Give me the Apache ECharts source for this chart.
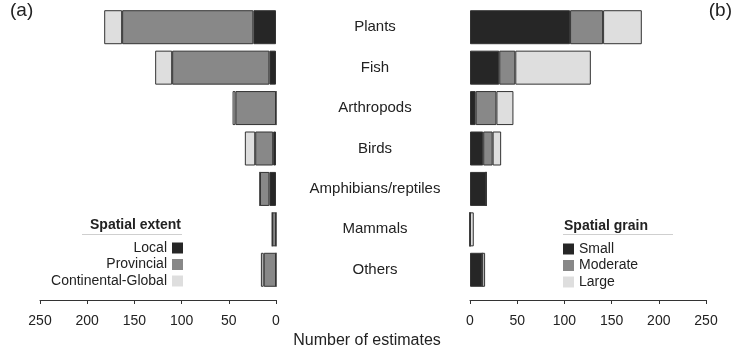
<!DOCTYPE html>
<html>
<head>
<meta charset="utf-8">
<script src="https://cdn.jsdelivr.net/npm/echarts@6/dist/echarts.min.js"></script>
<style>
  html, body { margin: 0; padding: 0; background: #fff; }
  #chart { width: 734px; height: 352px; }
</style>
</head>
<body>
<div id="chart"></div>
<script>
  // 类群
  var categories = ['Plants', 'Fish', 'Arthropods', 'Birds', 'Amphibians/reptiles', 'Mammals', 'Others'];
  // (a) spatial extent
  var extentLocal = [24, 7, 0, 3, 7, 0, 0];
  var extentProvincial = [139, 103, 43, 19, 10, 4, 13];
  var extentContinental = [19, 18, 3, 11, 0, 0, 3];
  // (b) spatial grain
  var grainSmall = [106, 31, 6, 14, 17, 0, 13];
  var grainModerate = [35, 17, 22, 10, 0, 0, 0];
  var grainLarge = [41, 80, 18, 9, 0, 4, 3];
  var axisMin = 0, axisMax = 250, axisStep = 50;

  var font = 'Liberation Sans, Arial, sans-serif';
  var dark = '#262626', mid = '#888888', light = '#dedede';

  function bar(name, data, color, idx, stack) {
    return {
      name: name,
      type: 'bar',
      stack: stack,
      xAxisIndex: idx,
      yAxisIndex: idx,
      data: data,
      barWidth: 34,
      itemStyle: { color: color, borderColor: '#333', borderWidth: 1 },
      emphasis: { disabled: true }
    };
  }

  function xAx(idx, inverse) {
    return {
      type: 'value',
      gridIndex: idx,
      inverse: inverse,
      min: axisMin,
      max: axisMax,
      interval: axisStep,
      offset: 10,
      axisLine: { show: true, lineStyle: { color: '#333', width: 1 } },
      axisTick: { show: true, length: 4, lineStyle: { color: '#333' } },
      axisLabel: { margin: 14, fontSize: 14, color: '#222', fontFamily: font },
      splitLine: { show: false }
    };
  }

  function txt(size, weight) {
    return { fontSize: size, fontWeight: weight, color: '#222', fontFamily: font };
  }

  var chart = echarts.init(document.getElementById('chart'));
  var option = {
    animation: false,
    backgroundColor: '#fff',
    title: [
      { text: '(a)', left: 10, top: 1, padding: 0, textStyle: txt(19, 'normal') },
      { text: '(b)', right: 2, top: 1, padding: 0, textStyle: txt(19, 'normal') },
      { text: 'Spatial extent', left: 90, top: 218, padding: 0, textStyle: txt(14, 'bold') },
      { text: 'Spatial grain', left: 564, top: 219, padding: 0, textStyle: txt(14, 'bold') },
      { text: 'Number of estimates', left: 'center', top: 333, padding: 0, textStyle: txt(16, 'normal') }
    ],
    graphic: [
      { type: 'line', shape: { x1: 82, y1: 234.5, x2: 182, y2: 234.5 }, style: { stroke: '#cfcfcf', lineWidth: 1 } },
      { type: 'line', shape: { x1: 563, y1: 234.5, x2: 673, y2: 234.5 }, style: { stroke: '#cfcfcf', lineWidth: 1 } }
    ],
    legend: [
      {
        data: ['Local', 'Provincial', 'Continental-Global'],
        orient: 'vertical',
        align: 'right',
        right: 551,
        top: 241,
        itemWidth: 11,
        itemHeight: 11,
        itemGap: 2.5,
        icon: 'rect',
        selectedMode: false,
        padding: 0,
        itemStyle: { borderWidth: 0 },
        textStyle: txt(14, 'normal')
      },
      {
        data: ['Small', 'Moderate', 'Large'],
        orient: 'vertical',
        align: 'left',
        left: 563,
        top: 242,
        itemWidth: 11,
        itemHeight: 11,
        itemGap: 2.5,
        icon: 'rect',
        selectedMode: false,
        padding: 0,
        itemStyle: { borderWidth: 0 },
        textStyle: txt(14, 'normal')
      }
    ],
    grid: [
      { left: 40, width: 236, top: 7, bottom: 62 },
      { left: 470, width: 236, top: 7, bottom: 62 }
    ],
    xAxis: [xAx(0, true), xAx(1, false)],
    yAxis: [
      {
        type: 'category', gridIndex: 0, data: categories, inverse: true,
        axisLine: { show: false }, axisTick: { show: false }, axisLabel: { show: false }
      },
      {
        type: 'category', gridIndex: 1, data: categories, inverse: true,
        axisLine: { show: false }, axisTick: { show: false },
        axisLabel: { margin: 95, align: 'center', fontSize: 15, color: '#222', fontFamily: font }
      }
    ],
    series: [
      bar('Local', extentLocal, dark, 0, 'extent'),
      bar('Provincial', extentProvincial, mid, 0, 'extent'),
      bar('Continental-Global', extentContinental, light, 0, 'extent'),
      bar('Small', grainSmall, dark, 1, 'grain'),
      bar('Moderate', grainModerate, mid, 1, 'grain'),
      bar('Large', grainLarge, light, 1, 'grain')
    ]
  };
  chart.setOption(option);
</script>
</body>
</html>
